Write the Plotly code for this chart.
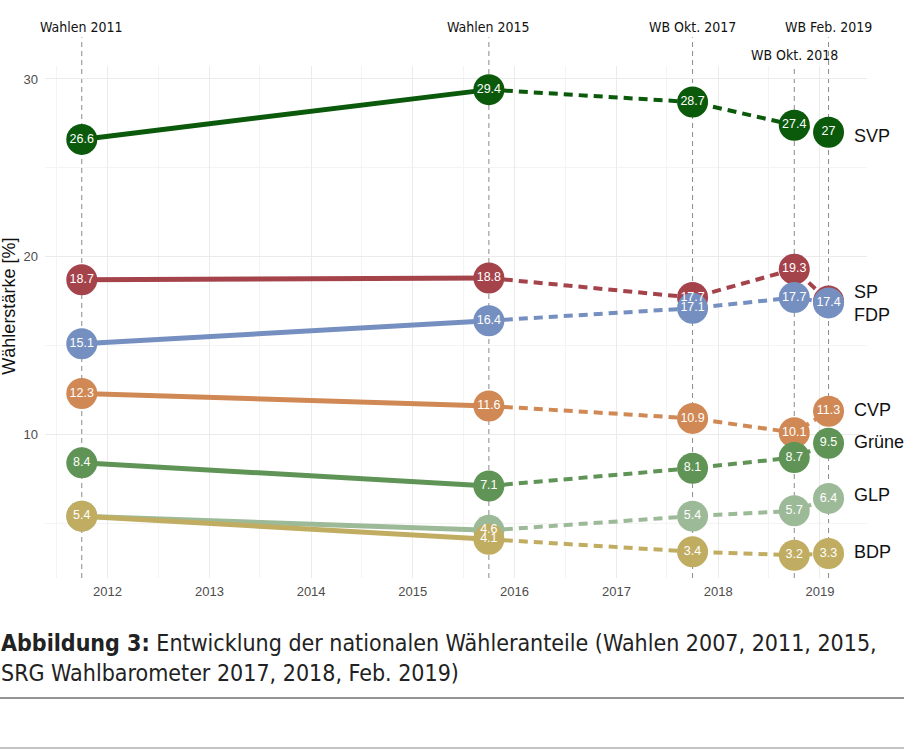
import plotly.graph_objects as go

# ---- data ----
dates = ["2011-10-01", "2015-10-01", "2017-10-01", "2018-10-01", "2019-02-01"]
event_labels = ["Wahlen 2011", "Wahlen 2015", "WB Okt. 2017", "WB Okt. 2018", "WB Feb. 2019"]

parties = ["SVP", "SP", "FDP", "CVP", "Grüne", "GLP", "BDP"]
svp = [26.6, 29.4, 28.7, 27.4, 27.0]
sp = [18.7, 18.8, 17.7, 19.3, 17.5]
fdp = [15.1, 16.4, 17.1, 17.7, 17.4]
cvp = [12.3, 11.6, 10.9, 10.1, 11.3]
gruene = [8.4, 7.1, 8.1, 8.7, 9.5]
glp = [5.4, 4.6, 5.4, 5.7, 6.4]
bdp = [5.4, 4.1, 3.4, 3.2, 3.3]
values = [svp, sp, fdp, cvp, gruene, glp, bdp]
# y positions of the party name labels at the right (repelled)
label_y = [26.8, 18.03, 16.74, 11.4, 9.6, 6.57, 3.37]
# which points show their value as text
show_text = [
    [True, True, True, True, True],
    [True, True, True, True, False],
    [True, True, True, True, True],
    [True, True, True, True, True],
    [True, True, True, True, True],
    [False, True, True, True, True],
    [True, True, True, True, True],
]

colors = ["#0b5a0b", "#a5434b", "#7590c0", "#d08955", "#5f9456", "#9dba98", "#c0ad62"]

FONT = "Liberation Sans, Arial, Helvetica, sans-serif"
NARROW = "Liberation Sans Narrow, DejaVu Sans Condensed, Arial Narrow, sans-serif"

fig = go.Figure()

# lines first
for name, vals, col in zip(parties, values, colors):
    fig.add_trace(go.Scatter(x=dates[:2], y=vals[:2], mode="lines",
                             line=dict(color=col, width=5), showlegend=False, hoverinfo="skip"))
    fig.add_trace(go.Scatter(x=dates[1:], y=vals[1:], mode="lines",
                             line=dict(color=col, width=4, dash="9px,6px"),
                             showlegend=False, hoverinfo="skip"))

# markers
for name, vals, col in zip(parties, values, colors):
    fig.add_trace(go.Scatter(x=dates, y=vals, mode="markers", name=name,
                             marker=dict(color=col, size=31, line=dict(width=0)),
                             showlegend=False))

# value texts on top of all markers
for name, vals, st in zip(parties, values, show_text):
    txt = [(f"{v:g}" if s else "") for v, s in zip(vals, st)]
    fig.add_trace(go.Scatter(x=dates, y=vals, mode="text", text=txt,
                             textposition="middle center",
                             textfont=dict(color="white", size=12.5, family=FONT),
                             showlegend=False, hoverinfo="skip"))

# vertical dashed event lines + labels
top_y = [1.076, 1.076, 1.076, 1.021, 1.076]
for d, lab, ty in zip(dates, event_labels, top_y):
    fig.add_shape(type="line", xref="x", yref="paper", x0=d, x1=d, y0=0, y1=ty - 0.02,
                  line=dict(color="#8a8a8a", width=1, dash="5px,4px"), layer="below")
    fig.add_annotation(x=d, y=ty, xref="x", yref="paper", text=lab, showarrow=False,
                       font=dict(size=14, color="#111111", family=NARROW),
                       xanchor="center", yanchor="middle")

# party labels on the right
for name, ly in zip(parties, label_y):
    fig.add_annotation(x="2019-04-25", y=ly, xref="x", yref="y", text=name, showarrow=False,
                       xanchor="left", yanchor="middle",
                       font=dict(size=18, color="#111111", family=FONT))

# y axis title
fig.add_annotation(x=-36 / 822, y=0.53, xref="paper", yref="paper", text="Wählerstärke [%]",
                   textangle=-90, showarrow=False, xanchor="center", yanchor="middle",
                   font=dict(size=18, color="#111111", family=FONT))

# caption
fig.add_annotation(x=-46 / 822, y=-80 / 512, xref="paper", yref="paper", xanchor="left", yanchor="middle",
                   align="left", showarrow=False,
                   text="<b>Abbildung 3:</b> Entwicklung der nationalen Wähleranteile (Wahlen 2007, 2011, 2015,"
                        "<br>SRG Wahlbarometer 2017, 2018, Feb. 2019)",
                   font=dict(size=23, color="#222222", family=NARROW))

# horizontal rules
fig.add_shape(type="line", xref="paper", yref="paper", x0=-45 / 822, x1=859 / 822,
              y0=-120 / 512, y1=-120 / 512, line=dict(color="#707070", width=1.5))
fig.add_shape(type="line", xref="paper", yref="paper", x0=-45 / 822, x1=859 / 822,
              y0=-170 / 512, y1=-170 / 512, line=dict(color="#b0b0b0", width=1.5))

fig.update_layout(
    width=904, height=750,
    margin=dict(l=45, r=37, t=66, b=172),
    paper_bgcolor="white", plot_bgcolor="white",
    font=dict(family=FONT),
    xaxis=dict(type="date", range=["2011-05-22", "2019-06-19"],
               dtick="M12", tick0="2012-01-01", tickformat="%Y",
               showgrid=True, gridcolor="#ebebeb", gridwidth=1,
               minor=dict(dtick="M12", tick0="2011-07-01", showgrid=True, gridcolor="#f4f4f4", gridwidth=1),
               zeroline=False, showline=False, ticks="",
               tickfont=dict(size=13, color="#4d4d4d"), ticklabelstandoff=4),
    yaxis=dict(range=[1.92, 30.73], tickvals=[10, 20, 30],
               showgrid=True, gridcolor="#ebebeb", gridwidth=1,
               minor=dict(tickvals=[5, 15, 25], showgrid=True, gridcolor="#f4f4f4", gridwidth=1),
               zeroline=False, showline=False, ticks="",
               tickfont=dict(size=13, color="#4d4d4d"), ticklabelstandoff=6),
)

fig.write_html("out.html", config={"displayModeBar": False},
               post_script="document.body.style.margin='0';document.body.style.padding='0';")
